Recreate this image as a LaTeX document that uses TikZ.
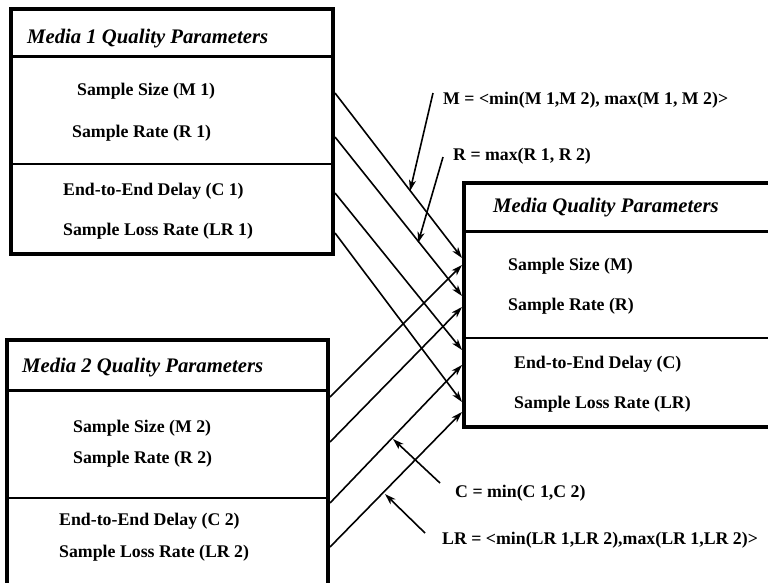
\documentclass[tikz,border=0pt]{standalone}
\usepackage{fontspec}
\setmainfont{Liberation Serif}
\usetikzlibrary{arrows.meta}
\begin{document}
\begin{tikzpicture}[x=1pt,y=-1pt,
  frame/.style={line width=3.6pt},
  titlerule/.style={line width=3pt},
  rowrule/.style={line width=1.8pt},
  head/.style={anchor=base west,inner sep=0pt,font=\fontsize{20.7}{24}\selectfont\bfseries\itshape},
  item/.style={anchor=base west,inner sep=0pt,font=\fontsize{17.8}{21}\selectfont\bfseries},
  flow/.style={line width=1.6pt,-{Stealth[length=11pt,width=7pt,inset=3pt]}},
  note/.style={line width=1.6pt,-{Stealth[length=11pt,width=7pt,inset=3pt]}}]
\clip (0,0) rectangle (768,582);
\fill[white] (0,0) rectangle (768,582);

% Media 1 parameter box
\draw[frame] (11,9) rectangle (333,254);
\draw[titlerule] (11,56) -- (333,56);
\draw[rowrule] (11,164) -- (333,164);
\node[head] (t1) at (27,43) {Media 1 Quality Parameters};
\node[item] (m1) at (77,95) {Sample Size (M 1)};
\node[item] (r1) at (72,137) {Sample Rate (R 1)};
\node[item] (c1) at (63,195) {End-to-End Delay (C 1)};
\node[item] (l1) at (63,235) {Sample Loss Rate (LR 1)};

% Media 2 parameter box (runs past the lower edge)
\draw[frame] (7,340) rectangle (328,600);
\draw[titlerule] (7,390) -- (328,390);
\draw[rowrule] (7,498) -- (328,498);
\node[head] (t2) at (22,372) {Media 2 Quality Parameters};
\node[item] (m2) at (73,432) {Sample Size (M 2)};
\node[item] (r2) at (73,463) {Sample Rate (R 2)};
\node[item] (c2) at (59,525) {End-to-End Delay (C 2)};
\node[item] (l2) at (59,557) {Sample Loss Rate (LR 2)};

% Combined parameter box (runs past the right edge)
\draw[frame] (464,183) rectangle (790,427);
\draw[titlerule] (464,231) -- (790,231);
\draw[rowrule] (464,338) -- (790,338);
\node[head] (t3) at (493,212) {Media Quality Parameters};
\node[item] (m3) at (508,270) {Sample Size (M)};
\node[item] (r3) at (508,310) {Sample Rate (R)};
\node[item] (c3) at (514,368) {End-to-End Delay (C)};
\node[item] (l3) at (514,408) {Sample Loss Rate (LR)};

% ports on the box edges
\coordinate (p1m) at (335,93);
\coordinate (p1r) at (335,137);
\coordinate (p1c) at (335,193);
\coordinate (p1l) at (335,233);
\coordinate (p2m) at (330,397);
\coordinate (p2r) at (330,442);
\coordinate (p2c) at (330,503);
\coordinate (p2l) at (330,547);
\coordinate (q1m) at (462,258);
\coordinate (q2m) at (462,265);
\coordinate (q1r) at (462,296);
\coordinate (q2r) at (462,307);
\coordinate (q1c) at (462,350);
\coordinate (q2c) at (462,365);
\coordinate (q1l) at (462,402);
\coordinate (q2l) at (462,412);

\draw[flow] (p1m) -- (q1m);
\draw[flow] (p1r) -- (q1r);
\draw[flow] (p1c) -- (q1c);
\draw[flow] (p1l) -- (q1l);
\draw[flow] (p2m) -- (q2m);
\draw[flow] (p2r) -- (q2r);
\draw[flow] (p2c) -- (q2c);
\draw[flow] (p2l) -- (q2l);

% combination rules
\node[item] (fm) at (443,104) {M = <min(M 1,M 2), max(M 1, M 2)>};
\node[item] (fr) at (453,160) {R = max(R 1, R 2)};
\node[item] (fc) at (455,497) {C = min(C 1,C 2)};
\node[item] (fl) at (442,544) {LR = <min(LR 1,LR 2),max(LR 1,LR 2)>};

\coordinate (sm) at (433,93);
\coordinate (em) at (410,191);
\coordinate (sr) at (443,157);
\coordinate (er) at (418,243);
\coordinate (sc) at (440,483);
\coordinate (ec) at (393,439);
\coordinate (sl) at (425,533);
\coordinate (el) at (385,494);
\draw[note] (sm) -- (em);
\draw[note] (sr) -- (er);
\draw[note] (sc) -- (ec);
\draw[note] (sl) -- (el);
\end{tikzpicture}
\end{document}
